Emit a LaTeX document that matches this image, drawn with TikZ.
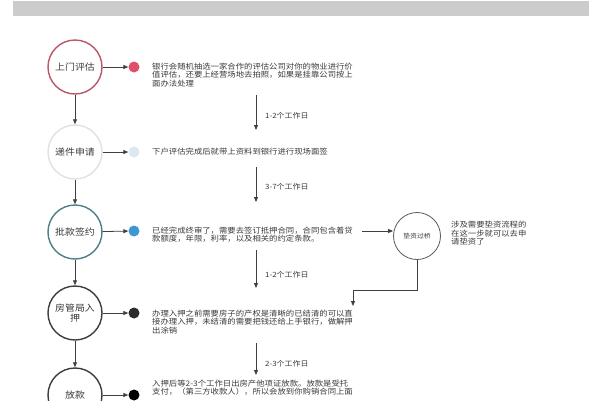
\documentclass[tikz,border=0pt]{standalone}
\usepackage{fontspec}
\newfontfamily\cjk[FakeStretch=1.1]{Noto Sans CJK SC}
\usetikzlibrary{arrows.meta,calc}
\definecolor{cA}{HTML}{B9566A}
\definecolor{dA}{HTML}{E0506A}
\definecolor{cB}{HTML}{DCE2E8}
\definecolor{dB}{HTML}{DCE8F2}
\definecolor{cC}{HTML}{4F7E86}
\definecolor{dC}{HTML}{3C97D3}
\definecolor{cD}{HTML}{3D3D3D}
\definecolor{dD}{HTML}{2B2B2B}
\definecolor{txt}{HTML}{3A3A3A}
\begin{document}
\begin{tikzpicture}[x=1pt,y=-1pt,
  stepcirc/.style={circle, draw, line width=1.4pt, fill=white, minimum size=54pt, inner sep=0pt, align=center, font=\cjk\fontsize{9}{9.5}\selectfont, text=txt},
  dotn/.style={circle, minimum size=11pt, inner sep=0pt},
  desc/.style={anchor=north west, inner sep=0pt, align=left, font=\cjk\fontsize{7.6}{8.5}\selectfont, text=txt},
  lbl/.style={anchor=west, inner sep=0pt, font=\cjk\fontsize{7.2}{8}\selectfont, text=txt},
  arr/.style={draw=black!75, line width=0.8pt, -{Triangle[length=5pt,width=4pt]}}]
\useasboundingbox (0,0) rectangle (600,400);
\clip (0,0) rectangle (600,400);
\fill[white] (0,0) rectangle (600,400);
\fill[black!20] (13,1) rectangle (589,16);

% main circles
\node[stepcirc, draw=cA] (c1) at (75,67) {上门评估};
\node[stepcirc, draw=cB] (c2) at (75,152) {递件申请};
\node[stepcirc, draw=cC] (c3) at (75,232) {批款签约};
\node[stepcirc, draw=cD] (c4) at (75,313) {房管局入\\押};
\node[stepcirc, draw=cD] (c5) at (75,395) {放款};

% dots
\node[dotn, fill=dA] (d1) at (134,67) {};
\node[dotn, fill=dB] (d2) at (134,152) {};
\node[dotn, fill=dC] (d3) at (134,231) {};
\node[dotn, fill=dD] (d4) at (134,313) {};
\node[dotn, fill=black] (d5) at (134,395) {};

% descriptions
\node[desc] (t1) at (152,62.5) {银行会随机抽选一家合作的评估公司对你的物业进行价\\值评估，还要上经营场地去拍照，如果是挂靠公司按上\\面办法处理};
\node[desc] (t2) at (152,148.2) {下户评估完成后就带上资料到银行进行现场面签};
\node[desc] (t3) at (152,226.5) {已经完成终审了，需要去签订抵押合同，合同包含着贷\\款额度，年限，利率，以及相关的约定条款。};
\node[desc] (t4) at (152,309.5) {办理入押之前需要房子的产权是清晰的已结清的可以直\\接办理入押，未结清的需要把钱还给上手银行，做解押\\出涂销};
\node[desc] (t5) at (152,379.5) {入押后等2-3个工作日出房产他项证放款。放款是受托\\支付，（第三方收款人），所以会放到你购销合同上面};

% bridge loan
\node[circle, draw=black!65, line width=0.8pt, minimum size=47pt, inner sep=0pt, font=\cjk\fontsize{6.2}{7}\selectfont, text=txt] (dz) at (417,236) {垫资过桥};
\node[desc] (tz) at (451,221) {涉及需要垫资流程的\\在这一步就可以去申\\请垫资了};

% left chain
\draw[arr] (c1) -- (c2);
\draw[arr] (c2) -- (c3);
\draw[arr] (c3) -- (c4);
\draw[arr] (c4) -- (c5);

% circle to dot
\draw[arr] (c1) -- (d1);
\draw[arr] (c2) -- (d2);
\draw[arr] (c3) -- (d3);
\draw[arr] (c4) -- (d4);
\draw[arr] (c5) -- (d5);

% middle time arrows
\coordinate (m1s) at (256,95);  \coordinate (m1e) at (256,130);
\coordinate (m2s) at (256,167); \coordinate (m2e) at (256,202);
\coordinate (m3s) at (256,250); \coordinate (m3e) at (256,288);
\coordinate (m4s) at (256,343); \coordinate (m4e) at (256,375);
\draw[arr] (m1s) -- (m1e);
\draw[arr] (m2s) -- (m2e);
\draw[arr] (m3s) -- (m3e);
\draw[arr] (m4s) -- (m4e);
\node[lbl] (l1) at (265,116) {1-2个工作日};
\node[lbl] (l2) at (265,187) {3-7个工作日};
\node[lbl] (l3) at (265,275) {1-2个工作日};
\node[lbl] (l4) at (265,364) {2-3个工作日};

% to bridge and back
\coordinate (t3e) at (362,231);
\draw[arr] (t3e) -- (t3e -| dz.west);
\coordinate (t4e) at (353,306);
\draw[arr] (dz.south) -- ++(0,30) -| (t4e);
\end{tikzpicture}
\end{document}
